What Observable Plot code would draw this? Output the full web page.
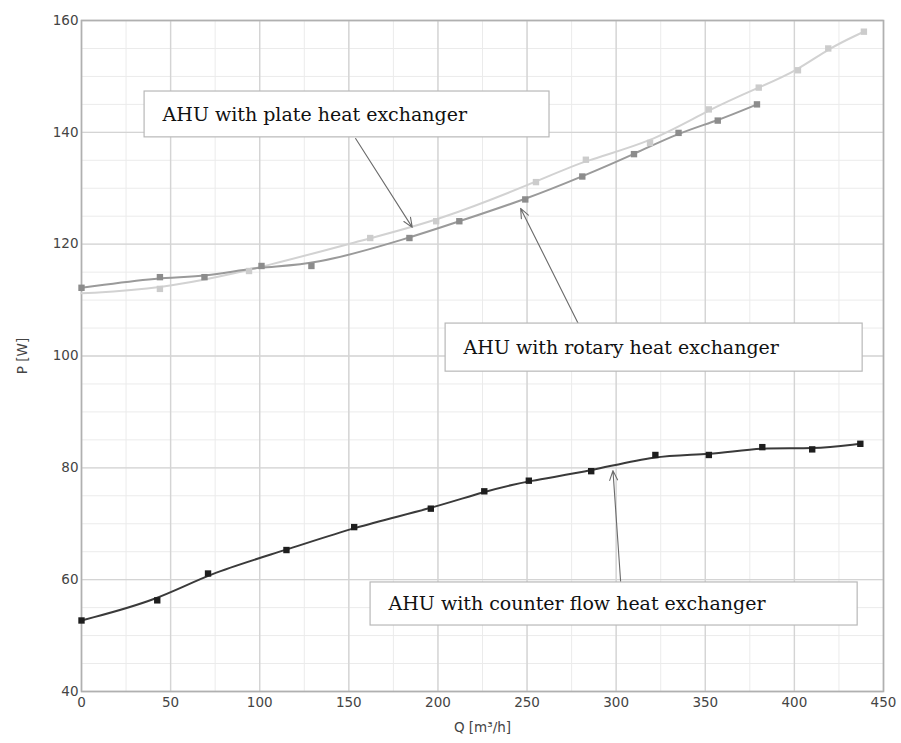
<!DOCTYPE html>
<html>
<head>
<meta charset="utf-8">
<script src="https://cdn.jsdelivr.net/npm/d3@7"></script>
<script src="https://cdn.jsdelivr.net/npm/@observablehq/plot@0.6"></script>
<style>
  html, body { margin: 0; padding: 0; background: #fff; }
  #chart { width: 901px; height: 743px; }
</style>
</head>
<body>
<div id="chart"></div>
<script>
// ---- data ----
const plateQ = [0, 44, 94, 162, 199, 255, 283, 319, 352, 380, 402, 419, 439];
const plateP = [111.2, 112.0, 115.2, 121.1, 124.1, 131.1, 135.1, 138.1, 144.1, 148.0, 151.1, 155.0, 158.0];
const plateHasMarker = [false, true, true, true, true, true, true, true, true, true, true, true, true];

const rotaryQ = [0, 44, 69, 101, 129, 184, 212, 249, 281, 310, 335, 357, 379];
const rotaryP = [112.2, 114.1, 114.1, 116.1, 116.1, 121.1, 124.1, 128.0, 132.1, 136.1, 139.9, 142.1, 145.0];

const counterQ = [0, 42.5, 71, 115, 153, 196, 226, 251, 286, 322, 352, 382, 410, 437];
const counterP = [52.7, 56.3, 61.1, 65.3, 69.4, 72.7, 75.8, 77.7, 79.4, 82.3, 82.3, 83.7, 83.3, 84.3];

const xTicks = [0, 50, 100, 150, 200, 250, 300, 350, 400, 450];
const yTicks = [40, 60, 80, 100, 120, 140, 160];

// annotations: label, box corners, text anchor, arrow start/end (data units)
const labels = ["AHU with plate heat exchanger", "AHU with rotary heat exchanger", "AHU with counter flow heat exchanger"];
const boxQ1 = [35.4, 204.3, 162.2];
const boxQ2 = [262.6, 438.3, 435.5];
const boxP1 = [139.1, 97.2, 51.8];
const boxP2 = [147.3, 105.8, 59.5];
const textQ = [45.5, 214.4, 172.3];
const textP = [143.2, 101.5, 55.7];
const arrowQ1 = [153.8, 278.7, 302.5];
const arrowP1 = [138.9, 105.8, 59.7];
const arrowQ2 = [185.6, 246.4, 298.2];
const arrowP2 = [123.0, 126.4, 79.5];

// ---- build tables ----
const plate = plateQ.map((q, i) => ({q, p: plateP[i], m: plateHasMarker[i]}));
const rotary = rotaryQ.map((q, i) => ({q, p: rotaryP[i]}));
const counter = counterQ.map((q, i) => ({q, p: counterP[i]}));
const notes = labels.map((label, i) => ({
  label, x1: boxQ1[i], x2: boxQ2[i], y1: boxP1[i], y2: boxP2[i],
  tx: textQ[i], ty: textP[i],
  ax1: arrowQ1[i], ay1: arrowP1[i], ax2: arrowQ2[i], ay2: arrowP2[i]
}));
const xMinor = d3.range(0, 451, 25);
const yMinor = d3.range(40, 161, 5);

const chart = Plot.plot({
  width: 901,
  height: 743,
  marginLeft: 81,
  marginRight: 18,
  marginTop: 20,
  marginBottom: 52,
  style: {fontFamily: "'DejaVu Sans', Verdana, sans-serif", fontSize: "13.5px", color: "#444", background: "#fff"},
  x: {domain: [0, 450]},
  y: {domain: [40, 160]},
  marks: [
    Plot.ruleX(xMinor, {stroke: "#ebebeb", strokeWidth: 1}),
    Plot.ruleY(yMinor, {stroke: "#ebebeb", strokeWidth: 1}),
    Plot.ruleX(xTicks, {stroke: "#d4d4d4", strokeWidth: 1.4}),
    Plot.ruleY(yTicks, {stroke: "#d4d4d4", strokeWidth: 1.4}),
    Plot.frame({stroke: "#b0b0b0", strokeWidth: 1.6}),
    Plot.axisX({ticks: xTicks, tickSize: 0, tickPadding: 6, fontSize: 13.5, fill: "#444", label: "Q [m³/h]", labelAnchor: "center", labelArrow: "none", labelOffset: 40}),
    Plot.axisY({ticks: yTicks, tickSize: 0, tickPadding: 3, fontSize: 13.5, fill: "#444", label: "P [W]", labelAnchor: "center", labelArrow: "none", labelOffset: 64}),
    // series lines
    Plot.line(plate, {x: "q", y: "p", curve: "basis", stroke: "#d2d2d2", strokeWidth: 2}),
    Plot.line(rotary, {x: "q", y: "p", curve: "basis", stroke: "#9a9a9a", strokeWidth: 2}),
    Plot.line(counter, {x: "q", y: "p", curve: "basis", stroke: "#3a3a3a", strokeWidth: 2}),
    // markers
    Plot.dot(plate.filter(d => d.m), {x: "q", y: "p", symbol: "square", r: 3.6, fill: "#cccccc", stroke: "none"}),
    Plot.dot(rotary, {x: "q", y: "p", symbol: "square", r: 3.6, fill: "#8c8c8c", stroke: "none"}),
    Plot.dot(counter, {x: "q", y: "p", symbol: "square", r: 3.6, fill: "#1e1e1e", stroke: "none"}),
    // annotations
    Plot.arrow(notes, {x1: "ax1", y1: "ay1", x2: "ax2", y2: "ay2", stroke: "#6a6a6a", strokeWidth: 1.1, headLength: 14, headAngle: 45}),
    Plot.rect(notes, {x1: "x1", x2: "x2", y1: "y1", y2: "y2", fill: "#fff", stroke: "#b8b8b8", strokeWidth: 1.2}),
    Plot.text(notes, {x: "tx", y: "ty", text: "label", textAnchor: "start", fontFamily: "'DejaVu Serif', 'Liberation Serif', serif", fontSize: 19, fill: "#111"})
  ]
});
document.getElementById("chart").appendChild(chart);
</script>
</body>
</html>
